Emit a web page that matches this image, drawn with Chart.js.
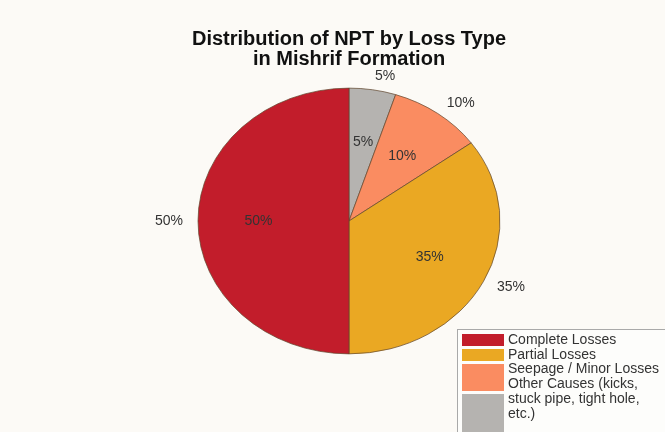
<!DOCTYPE html>
<html>
<head>
<meta charset="utf-8">
<script src="https://cdn.jsdelivr.net/npm/chart.js@4/dist/chart.umd.min.js"></script>
<style>
  html, body { margin: 0; padding: 0; background: #fcfaf6; }
  #wrap { width: 665px; height: 432px; }
</style>
</head>
<body>
<div id="wrap"><canvas id="c" width="665" height="432"></canvas></div>
<script>
// Loss categories, in legend order
const categories = [
  'Complete Losses',
  'Partial Losses',
  'Seepage / Minor Losses',
  'Other Causes (kicks, stuck pipe, tight hole, etc.)'
];
// Share of NPT (%)
const shares = [50, 35, 10, 5];
const sliceColors = ['#c21d2b', '#eaa823', '#fa8c61', '#b5b3b0'];

const titleLines = ['Distribution of NPT by Loss Type', 'in Mishrif Formation'];

// Slices are laid out clockwise from 12 o'clock, starting with the last category
const order = categories.map((_, i) => i).reverse();

const FONT = "'Liberation Sans', Arial, Helvetica, sans-serif";
const Y_SCALE = 0.88;   // pie is drawn slightly flattened

// Flatten the pie vertically around its centre
const ellipsePlugin = {
  id: 'ellipse',
  beforeDatasetsDraw(chart) {
    const arc = chart.getDatasetMeta(0).data[0];
    const ctx = chart.ctx;
    ctx.save();
    ctx.translate(arc.x, arc.y);
    ctx.scale(1, Y_SCALE);
    ctx.translate(-arc.x, -arc.y);
  },
  afterDatasetsDraw(chart) {
    chart.ctx.restore();
    drawPercentLabels(chart);
  }
};

function drawPercentLabels(chart) {
  const ctx = chart.ctx;
  const meta = chart.getDatasetMeta(0);
  const values = chart.data.datasets[0].data;
  ctx.save();
  ctx.font = '14px ' + FONT;
  ctx.fillStyle = '#333333';
  ctx.textBaseline = 'middle';
  meta.data.forEach((arc, i) => {
    const p = arc.getProps(['x', 'y', 'startAngle', 'endAngle', 'outerRadius'], true);
    const mid = (p.startAngle + p.endAngle) / 2;
    const r = p.outerRadius;
    const txt = values[i] + '%';
    // inside label
    ctx.textAlign = 'center';
    ctx.fillText(txt, p.x + 0.6 * r * Math.cos(mid), p.y + 0.6 * r * Y_SCALE * Math.sin(mid));
    // outside label
    const ox = p.x + 1.1 * r * Math.cos(mid);
    const oy = p.y + 1.1 * r * Y_SCALE * Math.sin(mid);
    ctx.textAlign = Math.cos(mid) >= 0 ? 'left' : 'right';
    ctx.fillText(txt, ox, oy);
  });
  ctx.restore();
}

function wrapText(ctx, text, maxWidth) {
  const words = text.split(' ');
  const lines = [];
  let line = '';
  words.forEach(w => {
    const test = line ? line + ' ' + w : w;
    if (line && ctx.measureText(test).width > maxWidth) {
      lines.push(line);
      line = w;
    } else {
      line = test;
    }
  });
  if (line) lines.push(line);
  return lines;
}

// Boxed legend in the lower-right corner
const boxLegendPlugin = {
  id: 'boxLegend',
  afterDraw(chart) {
    const ctx = chart.ctx;
    const boxX = 457.5, boxY = 329.5;
    ctx.save();
    ctx.fillStyle = '#fdfdfb';
    ctx.strokeStyle = '#a9a9a9';
    ctx.lineWidth = 1;
    ctx.fillRect(boxX, boxY, 220, 120);
    ctx.strokeRect(boxX, boxY, 220, 120);

    // swatches
    const swatchX = 462, swatchW = 42;
    const swatchH = [12, 12, 27, 42];
    let sy = 334;
    categories.forEach((_, i) => {
      ctx.fillStyle = sliceColors[i];
      ctx.fillRect(swatchX, sy, swatchW, swatchH[i]);
      sy += swatchH[i] + 3;
    });

    // text
    ctx.font = '14px ' + FONT;
    ctx.fillStyle = '#333333';
    ctx.textAlign = 'left';
    ctx.textBaseline = 'middle';
    let ty = 340;
    categories.forEach(label => {
      wrapText(ctx, label, 156).forEach(line => {
        ctx.fillText(line, 508, ty);
        ty += 14.8;
      });
    });
    ctx.restore();
  }
};

new Chart(document.getElementById('c'), {
  type: 'pie',
  data: {
    labels: order.map(i => categories[i]),
    datasets: [{
      data: order.map(i => shares[i]),
      backgroundColor: order.map(i => sliceColors[i]),
      borderColor: 'rgba(95,70,45,0.75)',
      borderWidth: 1,
      radius: 151
    }]
  },
  options: {
    responsive: false,
    animation: false,
    events: [],
    layout: { padding: { left: 33, right: 0, top: 0, bottom: 60 } },
    plugins: {
      legend: { display: false },
      tooltip: { enabled: false },
      title: {
        display: true,
        text: titleLines,
        color: '#111111',
        font: { family: FONT, size: 20, weight: 'bold', lineHeight: 1.0 },
        padding: { top: 29, bottom: 1 }
      }
    }
  },
  plugins: [ellipsePlugin, boxLegendPlugin]
});
</script>
</body>
</html>
